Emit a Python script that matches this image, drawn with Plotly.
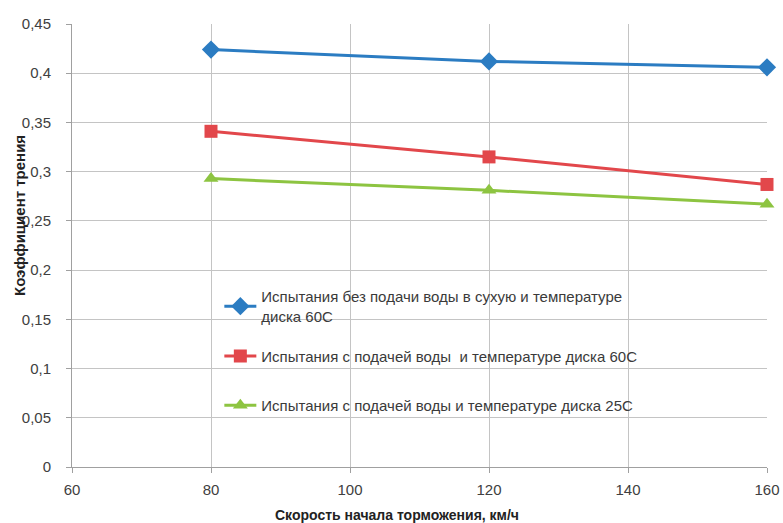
import plotly.graph_objects as go

speeds = [80, 120, 160]
dry_60 = [0.424, 0.412, 0.406]
wet_60 = [0.341, 0.315, 0.287]
wet_25 = [0.293, 0.281, 0.267]

names = [
    "Испытания без подачи воды в сухую и температуре<br>диска 60С",
    "Испытания с подачей воды  и температуре диска 60С",
    "Испытания с подачей воды и температуре диска 25С",
]
y_ticks = [0, 0.05, 0.1, 0.15, 0.2, 0.25, 0.3, 0.35, 0.4, 0.45]
y_tick_labels = ["0", "0,05", "0,1", "0,15", "0,2", "0,25", "0,3", "0,35", "0,4", "0,45"]
x_ticks = [60, 80, 100, 120, 140, 160]
x_title = "Скорость начала торможения, км/ч"
y_title = "Коэффициент трения"

colors = ["#2b7cc2", "#e2474b", "#8dc441"]
symbols = ["diamond", "square", "triangle-up"]
series = [dry_60, wet_60, wet_25]
legends = ["legend", "legend2", "legend3"]

fig = go.Figure()
for vals, name, col, sym, lg in zip(series, names, colors, symbols, legends):
    fig.add_trace(go.Scatter(
        x=speeds, y=vals, name=name, mode="lines+markers",
        line=dict(color=col, width=3),
        marker=dict(symbol=sym, size=13 if sym != "diamond" else 14, color=col),
        legend=lg, showlegend=True, cliponaxis=False,
    ))

font = "Liberation Sans, Arial, sans-serif"
leg_common = dict(xanchor="left", yanchor="middle", bgcolor="rgba(255,255,255,0)",
                  font=dict(family=font, size=15, color="#3a3a3a"), itemwidth=32)

fig.update_layout(
    width=783, height=523,
    margin=dict(l=72, r=16, t=24, b=56, autoexpand=False),
    paper_bgcolor="white", plot_bgcolor="white",
    separators=", ",
    showlegend=True,
    font=dict(family=font, color="#404040"),
    legend=dict(x=0.212, y=0.363, **leg_common),
    legend2=dict(x=0.212, y=0.25, **leg_common),
    legend3=dict(x=0.212, y=0.139, **leg_common),
    xaxis=dict(
        range=[60, 160], tickvals=x_ticks, automargin=False,
        showgrid=True, gridcolor="#c4c4c4", gridwidth=1,
        showline=True, linecolor="#a0a0a0", linewidth=1,
        ticks="outside", tickcolor="#a0a0a0", ticklen=5,
        ticklabelstandoff=4,
        tickfont=dict(size=15, color="#404040"),
        zeroline=False,
    ),
    yaxis=dict(
        range=[0, 0.45], tickvals=y_ticks, ticktext=y_tick_labels, automargin=False,
        showgrid=True, gridcolor="#c4c4c4", gridwidth=1,
        showline=True, linecolor="#a0a0a0", linewidth=1,
        ticks="outside", tickcolor="#a0a0a0", ticklen=5,
        ticklabelstandoff=12,
        tickfont=dict(size=15, color="#404040"),
        zeroline=False,
    ),
    annotations=[
        dict(text="<b>" + x_title + "</b>", xref="paper", yref="paper",
             x=(397 - 72) / 695, y=(467 - 515) / 443, xanchor="center", yanchor="middle",
             showarrow=False, font=dict(family=font, size=14, color="#222")),
        dict(text="<b>" + y_title + "</b>", xref="paper", yref="paper",
             x=(19 - 72) / 695, y=(467 - 216) / 443, xanchor="center", yanchor="middle",
             textangle=-90, showarrow=False, font=dict(family=font, size=15, color="#222")),
    ],
)

fig.write_html("out.html", config={"displayModeBar": False},
               post_script="document.body.style.margin='0';document.body.style.overflow='hidden';")
